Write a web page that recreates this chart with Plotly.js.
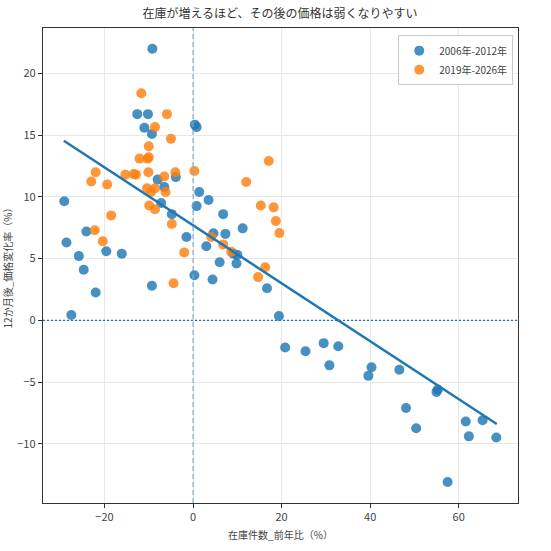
<!DOCTYPE html>
<html><head><meta charset="utf-8">
<script src="https://cdn.plot.ly/plotly-3.0.1.min.js"></script>
<style>html,body{margin:0;padding:0;background:#fff}#chart{width:551px;height:551px}</style>
</head><body><div id="chart"></div>
<script>
const seriesNames = ["2006年-2012年", "2019年-2026年"];
const blueX = [-29.1,-28.6,-27.5,-25.8,-24.7,-24.1,-22.0,-19.6,-16.1,-12.6,-10.2,-11.0,-9.3,-9.2,-8.0,-6.5,-3.9,-7.2,-4.8,-9.3,-1.5,0.3,0.4,0.8,1.4,0.8,3.5,6.8,4.6,3.0,7.3,11.2,6.0,9.1,10.0,9.8,4.4,16.7,19.4,20.8,25.4,29.5,32.8,30.8,40.3,39.6,46.6,55.0,55.3,48.1,50.4,61.6,65.4,62.3,68.5,57.5];
const blueY = [9.65,6.3,0.43,5.2,4.1,7.2,2.25,5.6,5.4,16.7,16.7,15.6,15.1,22.0,11.4,10.8,11.6,9.5,8.6,2.8,6.75,3.65,15.85,15.65,10.4,9.25,9.75,8.6,7.05,6.0,7.0,7.45,4.7,5.4,5.3,4.6,3.3,2.6,0.35,-2.2,-2.5,-1.85,-2.1,-3.65,-3.8,-4.5,-4.0,-5.8,-5.6,-7.1,-8.75,-8.2,-8.1,-9.4,-9.5,-13.1];
const orangeX = [-11.7,-5.9,-8.6,-5.0,-10.0,-12.1,-10.3,-10.0,-15.3,-13.4,-12.9,-10.1,-4.0,0.3,-22.0,-23.0,-19.4,-6.5,-10.4,-9.5,-8.6,-6.2,-9.9,-8.6,-18.5,-22.2,-20.4,-4.8,-2.0,-4.4,17.1,12.0,15.3,18.2,18.7,19.5,4.1,6.8,8.6,14.7,16.3];
const orangeY = [18.4,16.7,15.65,14.7,14.1,13.1,13.1,13.2,11.8,11.85,11.8,12.0,12.0,12.1,12.0,11.25,11.0,11.65,10.7,10.4,10.7,10.4,9.3,9.0,8.5,7.3,6.4,7.8,5.5,3.0,12.9,11.2,9.3,9.15,8.05,7.07,6.75,6.15,5.55,3.5,4.3];
const trendX = [-29.2, 68.6];
const trendY = [14.55, -8.4];
const xTicks = [-20, 0, 20, 40, 60];
const yTicks = [-10, -5, 0, 5, 10, 15, 20];

const font = "Noto Sans CJK JP, DejaVu Sans, sans-serif";
const traces = [
  {x: blueX, y: blueY, name: seriesNames[0], type: "scatter", mode: "markers",
   marker: {color: "#1f77b4", size: 10, opacity: 0.82, line: {width: 0}}},
  {x: orangeX, y: orangeY, name: seriesNames[1], type: "scatter", mode: "markers",
   marker: {color: "#ff7f0e", size: 10, opacity: 0.82, line: {width: 0}}},
  {x: trendX, y: trendY, type: "scatter", mode: "lines", showlegend: false, hoverinfo: "skip",
   line: {color: "#1f77b4", width: 2.5}}
];
const layout = {
  width: 551, height: 551,
  margin: {l: 43, r: 33, t: 28, b: 48},
  paper_bgcolor: "#fff", plot_bgcolor: "#fff",
  font: {family: font, color: "#444", size: 11},
  title: {text: "在庫が増えるほど、その後の価格は弱くなりやすい", x: 0.508, xanchor: "center", y: 0.975, yanchor: "middle",
          font: {family: font, size: 12, color: "#333"}},
  xaxis: {range: [-33.9, 73.4], tickvals: xTicks, ticks: "outside", ticklen: 4, tickcolor: "#333",
          showgrid: true, gridcolor: "#e8e8e8", zeroline: false,
          showline: true, linecolor: "#333", linewidth: 1.2, mirror: true,
          tickfont: {size: 11, color: "#444"},
          title: {text: "在庫件数_前年比（%）", font: {size: 10, color: "#444"}, standoff: 8}},
  yaxis: {range: [-14.8, 23.68], tickvals: yTicks, ticks: "outside", ticklen: 4, tickcolor: "#333",
          showgrid: true, gridcolor: "#e8e8e8", zeroline: false,
          showline: true, linecolor: "#333", linewidth: 1.2, mirror: true,
          tickfont: {size: 11, color: "#444"},
          title: {text: "12か月後_価格変化率（%）", font: {size: 10, color: "#444"}, standoff: 10}},
  legend: {x: 0.99, y: 0.985, xanchor: "right", yanchor: "top", bgcolor: "rgba(255,255,255,0.9)",
           bordercolor: "#ccc", borderwidth: 1, font: {size: 10, color: "#444"}},
  shapes: [
    {type: "line", xref: "x", yref: "paper", x0: 0, x1: 0, y0: 0, y1: 1,
     line: {color: "#7aaed3", width: 1.2, dash: "5px,3px"}},
    {type: "line", xref: "paper", yref: "y", x0: 0, x1: 1, y0: 0, y1: 0,
     line: {color: "#1f77b4", width: 1.2, dash: "2px,2px"}}
  ],
  showlegend: true
};
Plotly.newPlot("chart", traces, layout, {displayModeBar: false, staticPlot: true});
</script></body></html>
